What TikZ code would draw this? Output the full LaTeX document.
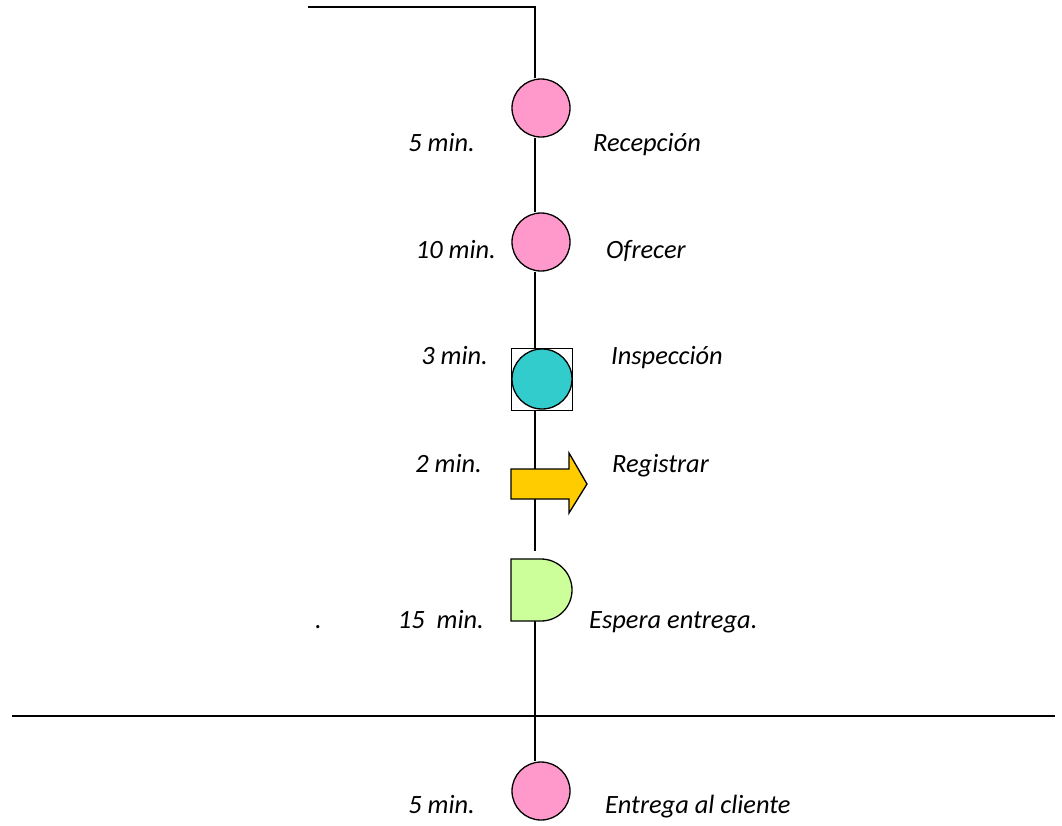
\documentclass[tikz,border=0pt]{standalone}
\usepackage{fontspec}
\setmainfont{Carlito}
\begin{document}
\begin{tikzpicture}[x=1pt,y=-1pt,
  flow/.style={line width=1.3pt},
  opcircle/.style={circle,draw,line width=1.3pt,minimum size=58pt,inner sep=0pt},
  lbl/.style={inner sep=0pt,font=\fontsize{26.4}{30}\selectfont\itshape},
  timel/.style={lbl,anchor=base east},
  namel/.style={lbl,anchor=base west}]
\useasboundingbox (0,0) rectangle (1062,825);

% entry line from the left
\coordinate (start) at (308,7);
\coordinate (corner) at (535,7);

% process symbols
\node[opcircle,fill={rgb,255:red,255;green,153;blue,204}] (c1) at (541,108) {};
\node[opcircle,fill={rgb,255:red,255;green,153;blue,204}] (c2) at (541,242) {};
\node[draw,line width=1pt,minimum width=61pt,minimum height=62pt,inner sep=0pt] (insp) at (542,379) {};
\node[opcircle,minimum size=60pt,fill={rgb,255:red,51;green,204;blue,204}] (c3) at (542,379) {};
\coordinate (dbot) at (535,621);
\node[opcircle,fill={rgb,255:red,255;green,153;blue,204}] (c4) at (541,791) {};

% connectors
\draw[flow] (start) -- (corner) -- (corner |- c1.north);
\draw[flow] (c1.south -| corner) -- (c2.north -| corner);
\draw[flow] (c2.south -| corner) -- (insp.north -| corner);
\draw[flow] (insp.south -| corner) -- (535,551);
\draw[flow] (dbot) -- (c4.north -| corner);

% boundary line
\coordinate (bl) at (12,716);
\coordinate (br) at (1055,716);
\draw[flow] (bl) -- (br);

% transport arrow
\draw[line width=1.3pt,fill={rgb,255:red,255;green,204;blue,0},line join=miter]
  (511,469) -- (569,469) -- (569,453) -- (587,484) -- (569,513) -- (569,499) -- (511,499) -- cycle;

% delay symbol
\draw[line width=1.3pt,fill={rgb,255:red,204;green,255;blue,153}]
  (511,559) -- (541,559) arc[start angle=-90,end angle=90,radius=31] -- (511,621) -- cycle;

% labels
\node[timel] (t1) at (475,151) {5 min.};
\node[namel] (n1) at (593,151) {Recepción};
\node[timel] (t2) at (496,258) {10 min.};
\node[namel] (n2) at (606,258) {Ofrecer};
\node[timel] (t3) at (488,364) {3 min.};
\node[namel] (n3) at (611,364) {Inspección};
\node[timel] (t4) at (482,472) {2 min.};
\node[namel] (n4) at (612,472) {Registrar};
\node[namel] (dot) at (315,628) {.};
\node[timel] (t5) at (484,628) {15\ \ min.};
\node[namel] (n5) at (589,628) {Espera entrega.};
\node[timel] (t6) at (475,813) {5 min.};
\node[namel] (n6) at (605,813) {Entrega al cliente};
\end{tikzpicture}
\end{document}
